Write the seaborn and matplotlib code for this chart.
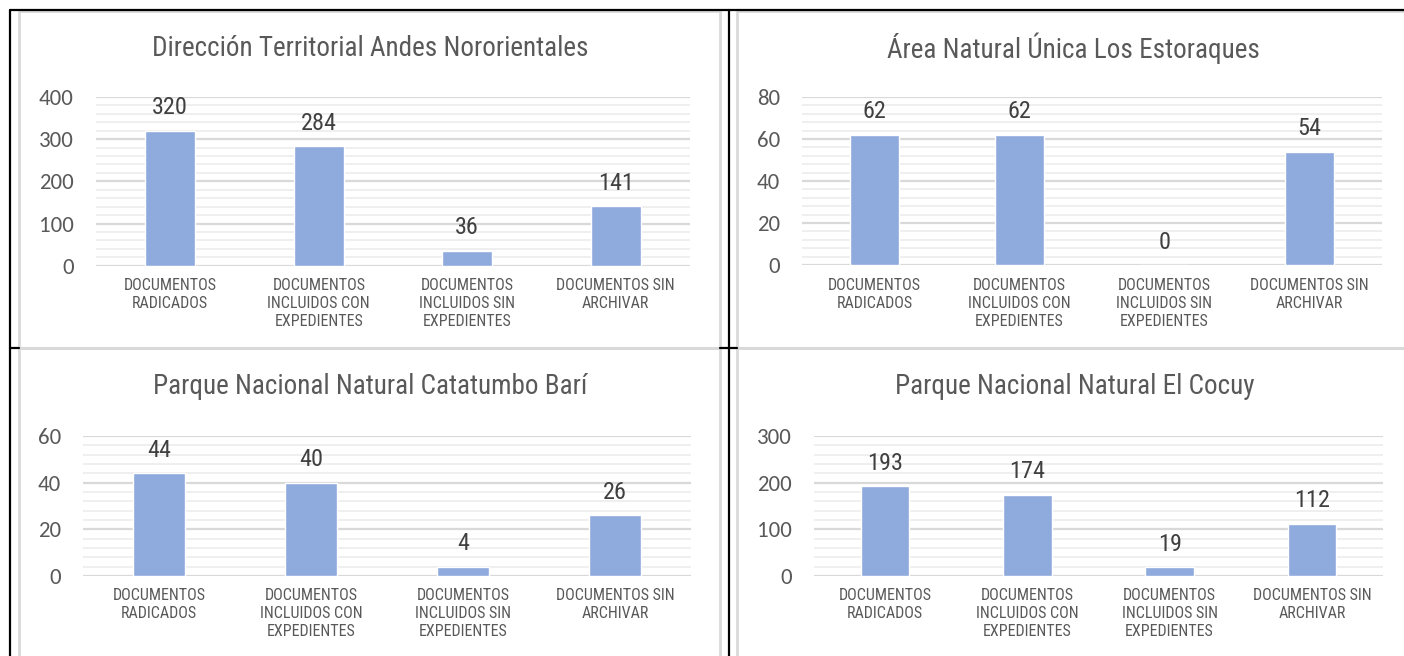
import matplotlib.pyplot as plt
import seaborn as sns
import pandas as pd
from matplotlib import font_manager
from matplotlib.ticker import MultipleLocator
from matplotlib.lines import Line2D
from matplotlib.patches import Rectangle

# data
categories = ['DOCUMENTOS\nRADICADOS', 'DOCUMENTOS\nINCLUIDOS CON\nEXPEDIENTES',
              'DOCUMENTOS\nINCLUIDOS SIN\nEXPEDIENTES', 'DOCUMENTOS SIN\nARCHIVAR']
titles = ['Dirección Territorial Andes Nororientales', 'Área Natural Única Los Estoraques',
          'Parque Nacional Natural Catatumbo Barí', 'Parque Nacional Natural El Cocuy']
andes = [320, 284, 36, 141]
estoraques = [62, 62, 0, 54]
catatumbo = [44, 40, 4, 26]
cocuy = [193, 174, 19, 112]
y_max = [400, 80, 60, 300]
y_step = [100, 20, 20, 100]

W, H = 1404, 656
# axes boxes in pixels: left, right, top(y of max), bottom(y of 0)
boxes = [(96, 690, 97, 265.7), (802, 1382, 97, 265), (83, 691, 436, 576), (814, 1383, 436, 576)]
title_pos = [(370, 48), (1073, 48), (370, 387), (1075, 387)]

BAR = '#8faadc'
TXT = '#595959'

available = set(f.name for f in font_manager.fontManager.ttflist)


def pick(options, default):
    for name in options:
        if name in available:
            return name
    return default


narrow = pick(['Liberation Sans Narrow', 'Arial Narrow', 'Roboto Condensed', 'PT Sans Narrow',
               'Archivo Narrow'], None)
tick_font = pick(['Carlito', 'Calibri', 'Lato'], 'Liberation Sans')
scale = 1.0 if narrow else 0.82
text_font = narrow or 'Liberation Sans'

sns.set_style('white')
plt.rcParams['font.family'] = [text_font, 'DejaVu Sans']
fig = plt.figure(figsize=(W / 100, H / 100), dpi=100)


def px(x, y):
    return x / W, 1 - y / H


# chart frames (light gray) and table lines (black)
for (x0, y0, x1, y1) in [(19, 11, 720, 348), (737, 11, 1410, 348), (19, 348, 720, 660), (737, 348, 1410, 660)]:
    fig.add_artist(Rectangle(px(x0, y1), (x1 - x0) / W, (y1 - y0) / H, transform=fig.transFigure,
                             fill=False, edgecolor='#d9d9d9', linewidth=2))
for xs, ys in [([10, 1404], [10, 10]), ([10, 10], [10, 656]), ([728.5, 728.5], [10, 656]),
               ([10, 19], [348, 348]), ([720, 737], [348, 348])]:
    fig.add_artist(Line2D([x / W for x in xs], [1 - y / H for y in ys], transform=fig.transFigure,
                          color='black', linewidth=1.6))

series = [andes, estoraques, catatumbo, cocuy]
for i, vals in enumerate(series):
    l, r, t, b = boxes[i]
    ax = fig.add_axes([l / W, 1 - b / H, (r - l) / W, (b - t) / H])
    df = pd.DataFrame({'cat': categories, 'val': vals})
    sns.barplot(data=df, x='cat', y='val', color=BAR, width=0.34, saturation=1, ax=ax, zorder=3)
    ax.set_ylim(0, y_max[i])
    ax.set_xlim(-0.5, 3.5)
    ax.yaxis.set_minor_locator(MultipleLocator(y_step[i] / 5))
    ax.grid(axis='y', which='major', color='#d9d9d9', linewidth=1.6, zorder=0)
    ax.grid(axis='y', which='minor', color='#efefef', linewidth=1.4, zorder=0)
    ax.set_axisbelow(True)
    for s in ax.spines.values():
        s.set_visible(False)
    ax.set_xlabel('')
    ax.set_ylabel('')
    ticks = list(range(0, y_max[i] + 1, y_step[i]))
    ax.set_yticks(ticks)
    ax.set_yticklabels([str(v) for v in ticks], family=tick_font, fontsize=16.5, color=TXT)
    ax.tick_params(axis='y', which='both', length=0, pad=16)
    ax.tick_params(axis='x', length=0, pad=9)
    ax.set_xticks(range(4))
    ax.set_xticklabels(categories, fontsize=11.5 * scale, color=TXT, linespacing=1.25, va='top')
    for j, v in enumerate(vals):
        ax.annotate(f'{v}', (j, v), xytext=(0, 16.5), textcoords='offset points',
                    ha='center', va='center', fontsize=17.5 * scale, color='#404040')
    tx, ty = title_pos[i]
    fig.text(tx / W, 1 - ty / H, titles[i], ha='center', va='center', fontsize=19.5 * scale,
             color=TXT)

fig.savefig('out.png', dpi=100)
